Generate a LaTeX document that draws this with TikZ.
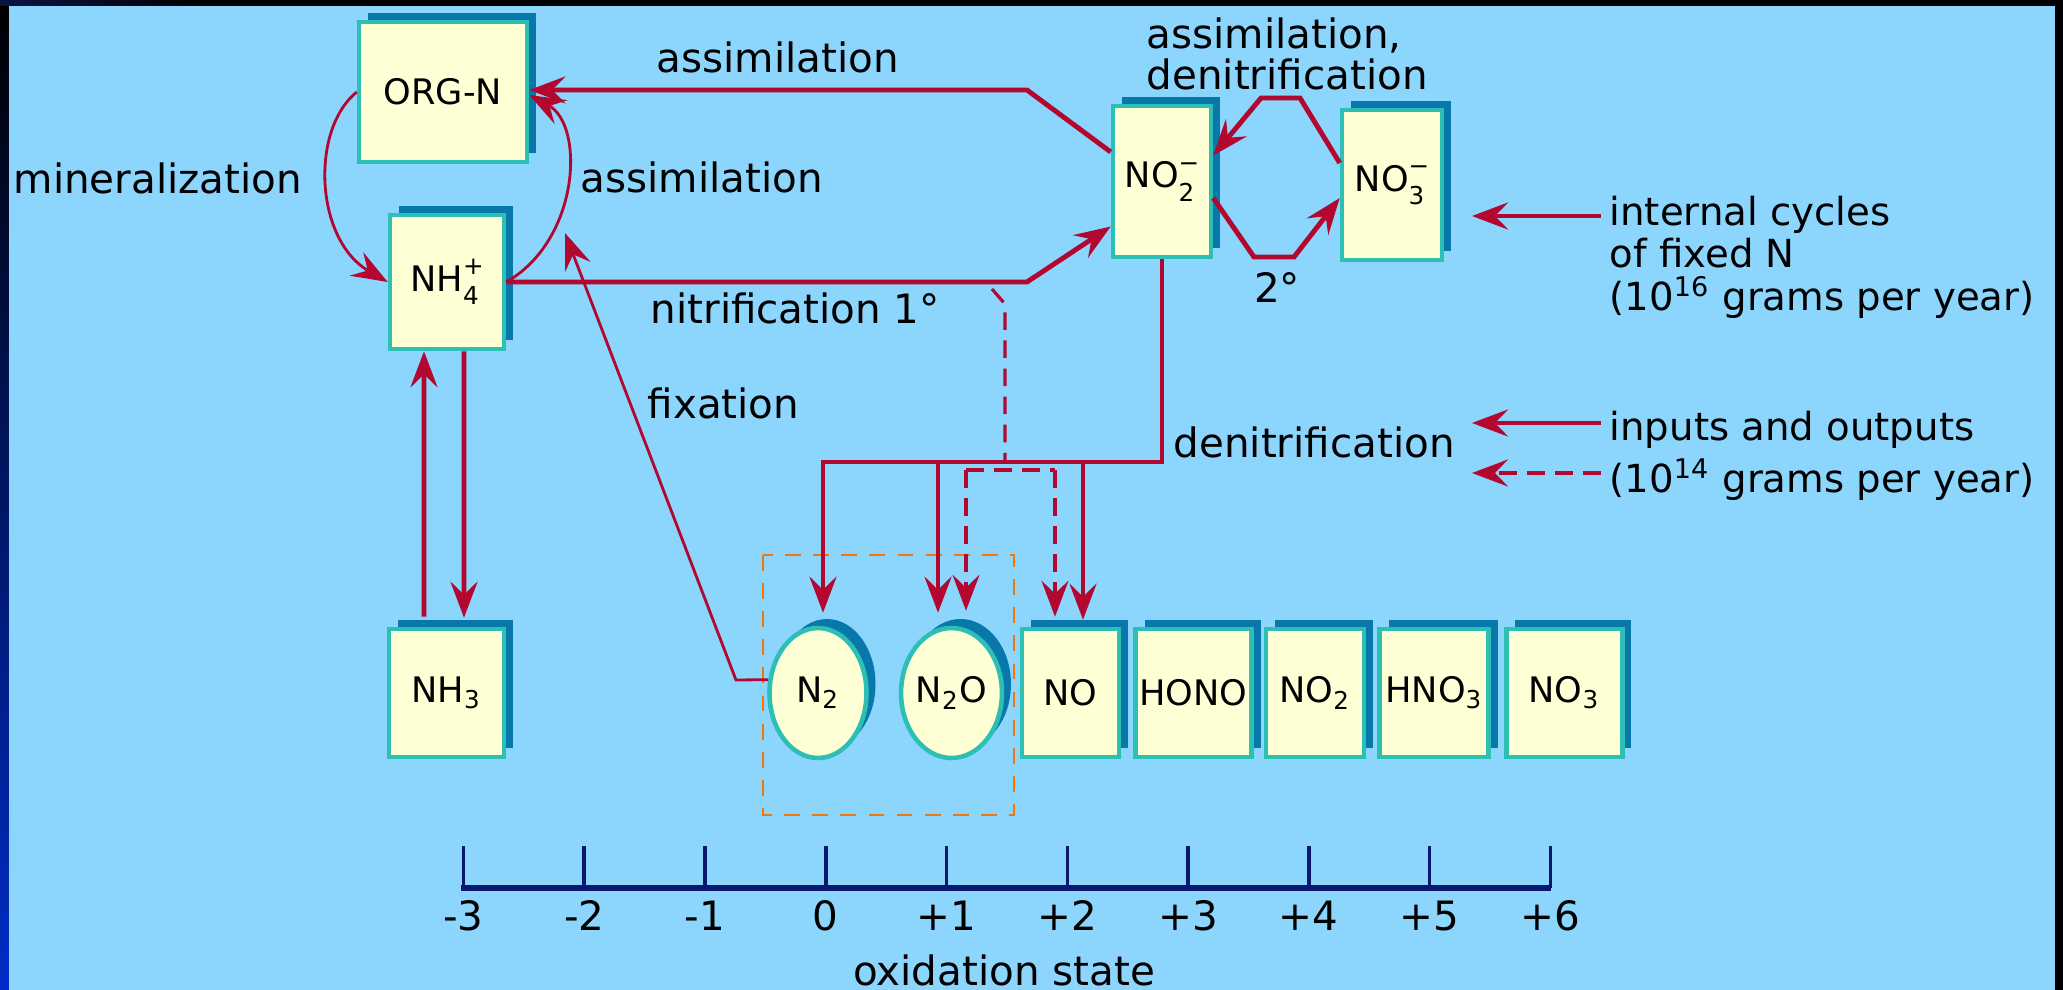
\documentclass[tikz,border=0pt]{standalone}
\usepackage{fontspec}
\setmainfont{DejaVu Sans}
\usepackage{xcolor}
\usepackage{tikz}
\usetikzlibrary{arrows.meta,positioning,shapes.geometric,shadows}

\definecolor{skyback}{RGB}{140,213,253}
\definecolor{fluxred}{RGB}{178,8,48}
\definecolor{shadeteal}{RGB}{8,120,170}
\definecolor{rimteal}{RGB}{45,190,180}
\definecolor{creamfill}{RGB}{255,255,214}
\definecolor{boxorange}{RGB}{240,120,10}
\definecolor{axisnavy}{RGB}{10,25,110}
\definecolor{edgeblue}{RGB}{0,45,200}
\definecolor{topnavy}{RGB}{10,20,70}

% stacked sub- and superscript for ions
\newcommand{\ionss}[2]{\rlap{\raisebox{-0.7ex}{\scriptsize #1}}\raisebox{0.85ex}{\scriptsize #2}}

\begin{document}
\begin{tikzpicture}[
  font=\fontsize{11.5}{12.3}\selectfont,
  box/.style={draw=rimteal, line width=1.3pt, fill=creamfill, inner sep=1pt,
              font=\fontsize{10}{12}\selectfont,
              drop shadow={shadow xshift=0.9mm, shadow yshift=0.9mm,
                           fill=shadeteal, opacity=1}},
  gas/.style={box, ellipse, inner sep=0pt, minimum width=0.97cm, minimum height=1.30cm},
  flow/.style={draw=fluxred, line width=1.4pt,
               -{Stealth[length=3.6mm, width=2.7mm, inset=1.3mm]}},
  thinflow/.style={flow, line width=0.8pt},
  ioline/.style={draw=fluxred, line width=0.9pt, dash pattern=on 5pt off 3pt},
  ioflow/.style={flow, ioline},
  lbl/.style={anchor=base west, inner sep=0pt}
]
% frame
\useasboundingbox (0,0) rectangle (20.63,-9.90);
\fill[skyback] (0,0) rectangle (20.63,-9.90);
\shade[top color=black, bottom color=edgeblue] (0,0) rectangle (0.09,-9.90);
\fill[black] (0,0) rectangle (20.63,-0.06);
\shade[left color=topnavy, right color=black] (0,0) rectangle (2.0,-0.06);
\fill[black] (20.55,0) rectangle (20.63,-9.90);

% pools of fixed N
\node[box, minimum width=1.68cm, minimum height=1.40cm] (orgn) at (4.43,-0.92) {ORG-N};
\node[box, minimum width=1.14cm, minimum height=1.34cm] (nhfour) at (4.47,-2.82) {NH\ionss{4}{+}};
\node[box, minimum width=0.98cm, minimum height=1.51cm] (notwo) at (11.62,-1.815) {NO\ionss{2}{−}};
\node[box, minimum width=1.00cm, minimum height=1.50cm] (nothree) at (13.92,-1.85) {NO\ionss{3}{−}};
% bottom row
\node[box, minimum width=1.15cm, minimum height=1.28cm] (nhthree) at (4.465,-6.93) {NH\textsubscript{3}};
\node[gas] (ntwo) at (8.18,-6.93) {N\textsubscript{2}};
\node[gas] (ntwoo) at (9.515,-6.93) {N\textsubscript{2}O};
\node[box, minimum width=0.97cm, minimum height=1.28cm] (no) at (10.705,-6.93) {NO};
\node[box, minimum width=1.16cm, minimum height=1.28cm, right=1.2mm of no] (hono) {HONO};
\node[box, minimum width=0.98cm, minimum height=1.28cm, right=1.0mm of hono] (nogas) {NO\textsubscript{2}};
\node[box, minimum width=1.09cm, minimum height=1.28cm, right=1.1mm of nogas] (hnothree) {HNO\textsubscript{3}};
\node[box, minimum width=1.16cm, minimum height=1.28cm, right=1.3mm of hnothree] (nothr) {NO\textsubscript{3}};
\draw[boxorange, line width=0.8pt, dash pattern=on 4.5pt off 3.5pt] (7.63,-5.55) rectangle (10.14,-8.15);

% bends
\coordinate (asbend) at (10.27,-0.90);
\coordinate (nibend) at (10.27,-2.82);
\coordinate (upa) at (13.00,-0.98);
\coordinate (upb) at (12.61,-0.98);
\coordinate (loa) at (12.54,-2.57);
\coordinate (lob) at (12.94,-2.57);
\coordinate (fixbend) at (7.36,-6.80);
\coordinate (fixtip) at (5.65,-2.33);
\coordinate (dncorner) at (8.23,-4.62);
\coordinate (dnmid) at (9.38,-4.62);
\coordinate (dnright) at (10.83,-4.62);
\coordinate (ioa) at (9.92,-2.89);
\coordinate (iob) at (10.05,-3.04);
\coordinate (ioleft) at (9.66,-4.70);
\coordinate (ioright) at (10.55,-4.70);

% internal cycles
\draw[flow] ([yshift=2.95mm]notwo.west) -- (asbend) -- (asbend -| orgn.east);
\draw[flow] (nhfour.east) -- (nibend) -- ([yshift=-4.5mm]notwo.west);
\draw[flow] ([yshift=2.2mm]nothree.west) -- (upa) -- (upb) -- ([yshift=2.6mm]notwo.east);
\draw[flow] ([yshift=-1.65mm]notwo.east) -- (loa) -- (lob) -- ([yshift=-1.3mm]nothree.west);
\draw[thinflow] (orgn.west) .. controls (3.1,-1.3) and (3.15,-2.4) .. (nhfour.west);
\draw[thinflow] (nhfour.east) .. controls (5.8,-2.4) and (5.85,-1.25) .. ([yshift=-0.3mm]orgn.east);
\draw[flow] ([xshift=-2.25mm, yshift=1mm]nhthree.north) -- ([xshift=-2.3mm]nhfour.south);
\draw[flow] ([xshift=1.7mm]nhfour.south) -- ([xshift=1.75mm, yshift=0.9mm]nhthree.north);
% denitrification and fixation
\draw[flow] (notwo.south) -- (notwo.south |- dncorner) -- (dncorner)
            -- ([yshift=1.3mm]ntwo.north -| dncorner);
\draw[flow] (dnmid) -- ([yshift=1.3mm]ntwoo.north -| dnmid);
\draw[flow] (dnright) -- ([yshift=0.7mm]no.north -| dnright);
\draw[thinflow] (ntwo.165) -- (fixbend) -- (fixtip);
% inputs and outputs
\draw[ioline] (ioa) -- (iob) -- (iob |- dncorner);
\draw[ioline] (ioleft) -- (ioright);
\draw[ioflow] (ioleft) -- ([yshift=1.5mm]ntwoo.north -| ioleft);
\draw[ioflow] (ioright) -- ([yshift=1.0mm]no.north -| ioright);

% labels
\node[lbl] (lasstop) at (6.56,-0.72) {assimilation};
\node[lbl] (lmin) at (0.13,-1.93) {mineralization};
\node[lbl] (lassmid) at (5.80,-1.92) {assimilation};
\node[lbl] (lnit) at (6.50,-3.23) {nitrification 1°};
\node[lbl] (lfix) at (6.47,-4.18) {fixation};
\node[lbl] (ldenit) at (11.73,-4.57) {denitrification};
\node[anchor=north west, inner sep=0pt, align=left, font=\fontsize{11.5}{11.7}\selectfont]
      (lasdn) at (11.46,-0.17) {assimilation,\\denitrification};
\node (lsec) at (12.77,-2.87) {2°};

% legend
\coordinate (lga) at (16.01,-2.16);
\coordinate (lgatip) at (14.72,-2.16);
\coordinate (lgb) at (16.01,-4.23);
\coordinate (lgbtip) at (14.72,-4.23);
\coordinate (lgc) at (16.01,-4.73);
\coordinate (lgctip) at (14.72,-4.73);
\draw[flow] (lga) -- (lgatip);
\draw[flow] (lgb) -- (lgbtip);
\draw[ioflow] (lgc) -- (lgctip);
\node[anchor=north west, inner sep=0pt, align=left, font=\fontsize{11}{12.2}\selectfont]
      (lgint) at (16.09,-1.95) {internal cycles\\of fixed N\\(10\textsuperscript{16} grams per year)};
\node[anchor=north west, inner sep=0pt, align=left, font=\fontsize{11}{14.8}\selectfont]
      (lgio) at (16.09,-4.10) {inputs and outputs\\(10\textsuperscript{14} grams per year)};

% oxidation state axis
\draw[axisnavy, line width=1.8pt] (4.61,-8.88) -- (15.51,-8.88);
\foreach \v [count=\i from 0] in {-3,-2,-1,0,+1,+2,+3,+4,+5,+6} {
  \draw[axisnavy, line width=1pt] (4.635+1.2075*\i,-8.46) -- (4.635+1.2075*\i,-8.88);
  \node[anchor=base, inner sep=0pt] (tk\i) at (4.635+1.2075*\i,-9.30) {\v};
}
\node[anchor=base, inner sep=0pt] (loxid) at (10.04,-9.85) {oxidation state};
\end{tikzpicture}
\end{document}
